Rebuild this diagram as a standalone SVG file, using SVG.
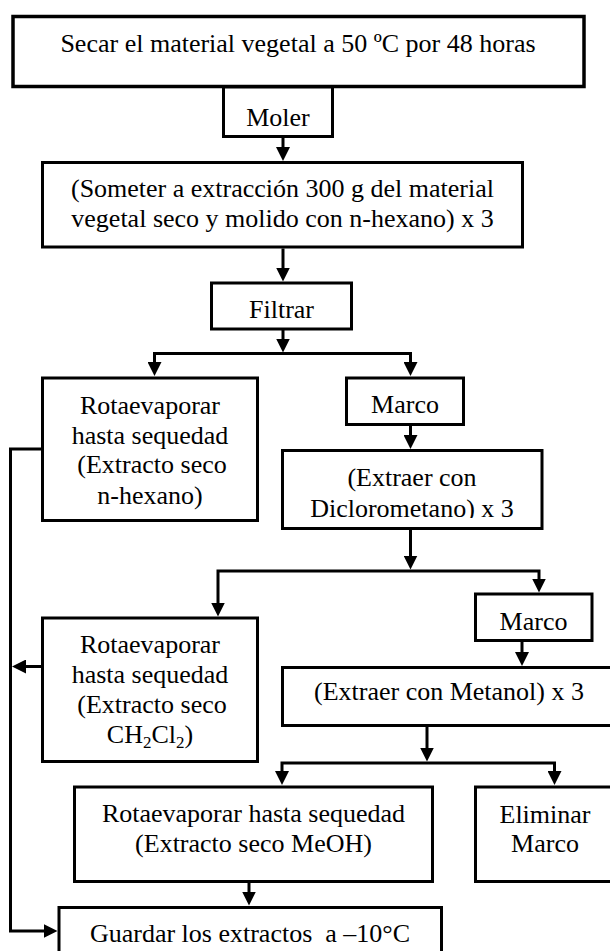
<svg xmlns="http://www.w3.org/2000/svg" width="610" height="951" viewBox="0 0 610 951">
<style>
  .box { fill: #ffffff; stroke: #000000; stroke-width: 3; }
  .t { font-family: "Liberation Serif", "Times New Roman", serif; font-size: 26px; fill: #000000; text-anchor: middle; }
  .sub { font-size: 17px; }
  .con { fill: none; stroke: #000000; stroke-width: 3; stroke-linejoin: miter; }
</style>
<defs>
  <marker id="ah" viewBox="0 0 14 14" refX="7" refY="7" markerWidth="14" markerHeight="14" markerUnits="userSpaceOnUse" orient="auto-start-reverse">
    <path d="M0,0 L14,7 L0,14 Z" fill="#000000"/>
  </marker>
  <clipPath id="clipDiclo">
    <rect x="282" y="450" width="262" height="68"/>
  </clipPath>
</defs>
<rect x="0" y="0" width="610" height="951" fill="#ffffff"/>

<g id="connectors">
  <path class="con" d="M283,137 V154" marker-end="url(#ah)"/>
  <path class="con" d="M283,248.5 V274.5" marker-end="url(#ah)"/>
  <path class="con" d="M283,330 V345.5" marker-end="url(#ah)"/>
  <path class="con" d="M154.5,369 V353.5 H410.5 V369" marker-start="url(#ah)" marker-end="url(#ah)"/>
  <path class="con" d="M410.5,426 V442" marker-end="url(#ah)"/>
  <path class="con" d="M410.5,529 V562.5" marker-end="url(#ah)"/>
  <path class="con" d="M218,609.5 V571 H539 V585.5" marker-start="url(#ah)" marker-end="url(#ah)"/>
  <path class="con" d="M522,641 V659" marker-end="url(#ah)"/>
  <path class="con" d="M427,726 V754.5" marker-end="url(#ah)"/>
  <path class="con" d="M282,778 V763 H554.5 V778" marker-start="url(#ah)" marker-end="url(#ah)"/>
  <path class="con" d="M249,882 V898.5" marker-end="url(#ah)"/>
  <path class="con" d="M42.5,449 H10.5 V931 H50.5" marker-end="url(#ah)"/>
  <path class="con" d="M42.5,666.5 H19" marker-end="url(#ah)"/>
</g>

<g id="secar">
  <rect class="box" x="13" y="16.5" width="571" height="70" style="stroke-width:3.5"/>
  <text class="t" x="298" y="52">Secar el material vegetal a 50 ºC por 48 horas</text>
</g>

<g id="moler">
  <rect class="box" x="223.5" y="87" width="109" height="49.5"/>
  <text class="t" x="278" y="126">Moler</text>
</g>

<g id="someter">
  <rect class="box" x="42.5" y="162.5" width="480" height="84.5"/>
  <text class="t" x="282.5" y="197">(Someter a extracción 300 g del material</text>
  <text class="t" x="282.5" y="227">vegetal seco y molido con n-hexano) x 3</text>
</g>

<g id="filtrar">
  <rect class="box" x="211.5" y="283" width="140" height="46"/>
  <text class="t" x="281.5" y="318">Filtrar</text>
</g>

<g id="rota-hexano">
  <rect class="box" x="42.5" y="378" width="215" height="142.5"/>
  <text class="t" x="150" y="414">Rotaevaporar</text>
  <text class="t" x="150" y="444">hasta sequedad</text>
  <text class="t" x="152" y="473">(Extracto seco</text>
  <text class="t" x="150" y="504">n-hexano)</text>
</g>

<g id="marco1">
  <rect class="box" x="346.5" y="378" width="117" height="46.5"/>
  <text class="t" x="405" y="413">Marco</text>
</g>

<g id="diclorometano">
  <rect class="box" x="282.5" y="450.5" width="259.5" height="78"/>
  <text class="t" x="412" y="486">(Extraer con</text>
  <text class="t" x="412" y="516.5" clip-path="url(#clipDiclo)">Diclorometano) x 3</text>
</g>

<g id="rota-ch2cl2">
  <rect class="box" x="42.5" y="618" width="215" height="143.5"/>
  <text class="t" x="150" y="653">Rotaevaporar</text>
  <text class="t" x="150" y="683">hasta sequedad</text>
  <text class="t" x="152" y="713">(Extracto seco</text>
  <text class="t" x="150" y="743">CH<tspan class="sub" dy="5">2</tspan><tspan dy="-5">Cl</tspan><tspan class="sub" dy="5">2</tspan><tspan dy="-5">)</tspan></text>
</g>

<g id="marco2">
  <rect class="box" x="475.5" y="594" width="116.5" height="46.5"/>
  <text class="t" x="533.5" y="630">Marco</text>
</g>

<g id="metanol">
  <rect class="box" x="282.5" y="667.5" width="333" height="58"/>
  <text class="t" x="449" y="700">(Extraer con Metanol) x 3</text>
</g>

<g id="rota-meoh">
  <rect class="box" x="74.5" y="787" width="358" height="94.5"/>
  <text class="t" x="253.5" y="821.5">Rotaevaporar hasta sequedad</text>
  <text class="t" x="253.5" y="851.5">(Extracto seco MeOH)</text>
</g>

<g id="eliminar">
  <rect class="box" x="475.5" y="787" width="139" height="94.5"/>
  <text class="t" x="545" y="822.5">Eliminar</text>
  <text class="t" x="545" y="851.5">Marco</text>
</g>

<g id="guardar">
  <rect class="box" x="59" y="907.5" width="382.5" height="70"/>
  <text class="t" x="250" y="942" xml:space="preserve">Guardar los extractos  a –10°C</text>
</g>
</svg>
